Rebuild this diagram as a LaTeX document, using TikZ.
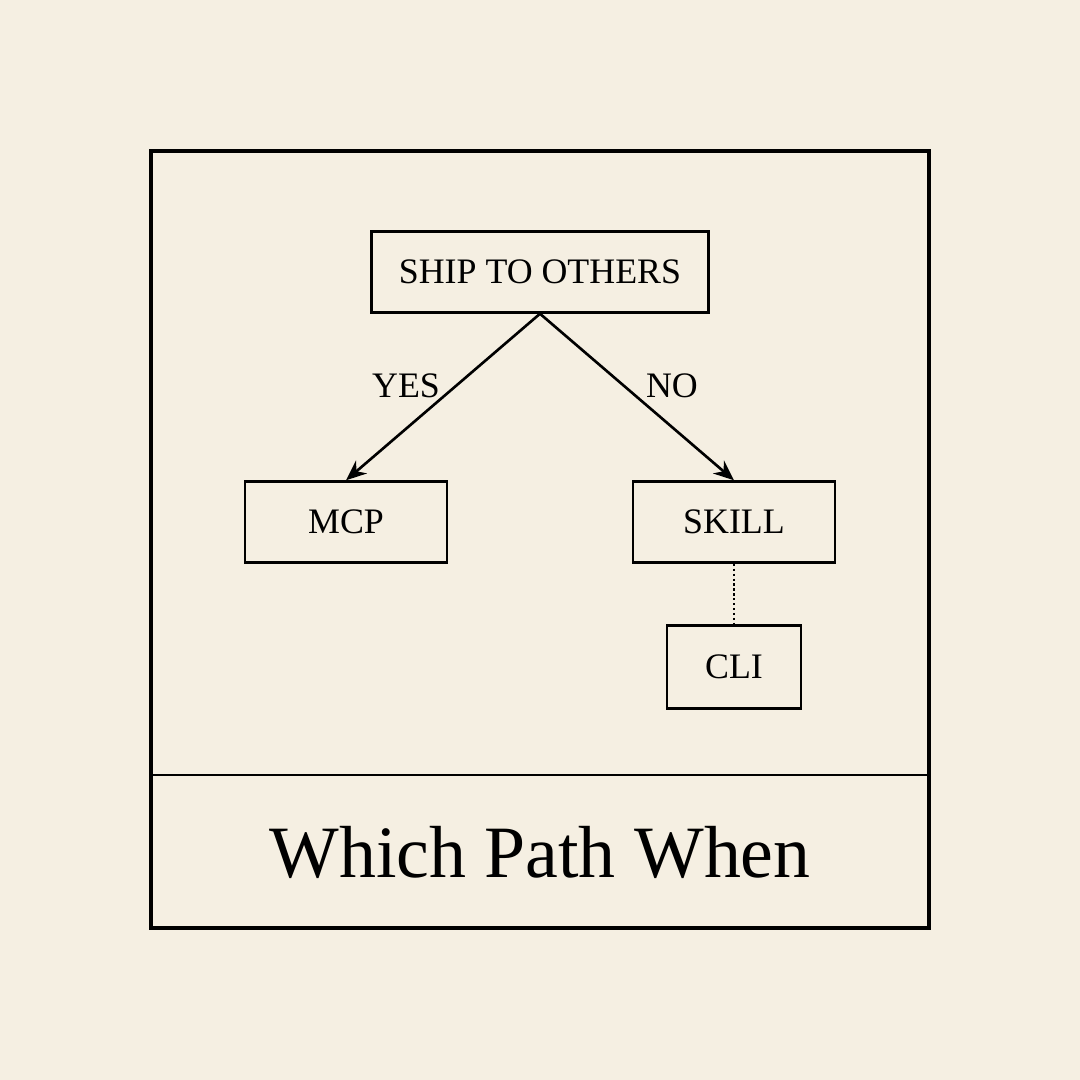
\documentclass[tikz,border=0pt]{standalone}
\usepackage{xcolor}
\usepackage{fontspec}
\setmainfont{Liberation Serif}
\usepackage{tikz}
\usetikzlibrary{arrows.meta}
\definecolor{paper}{HTML}{F5EFE2}
\tikzset{>={Stealth[length=5.8pt,width=4.8pt]}}

\begin{document}
\begin{tikzpicture}[x=0.1mm,y=-0.1mm,
    box/.style={draw,line width=0.7pt,minimum height=8.1mm,inner sep=0pt,
      font=\fontsize{10.2}{12}\selectfont},
    lbl/.style={font=\fontsize{10.2}{12}\selectfont,inner sep=0.5pt,yshift=-0.4mm}]
    \fill[paper] (0,0) rectangle (1080,1080);
    \useasboundingbox (0,0) rectangle (1080,1080);
    \draw[line width=1.35pt] (151,151) rectangle (929,928);
    \draw[line width=0.75pt] (151,775) -- (929,775);
    \node[box,minimum width=33.7mm] (ship) at (540,272) {SHIP TO OTHERS};
    \node[box,minimum width=20.2mm] (mcp) at (346,522) {MCP};
    \node[box,minimum width=20.2mm] (skill) at (734,522) {SKILL};
    \node[box,minimum width=13.4mm,minimum height=8.3mm] (cli) at (734,667) {CLI};
    \draw[->,line width=0.75pt] (ship.south) -- (mcp.north) node[lbl,midway,above left] {YES};
    \draw[->,line width=0.75pt] (ship.south) -- (skill.north) node[lbl,midway,above right,xshift=0.6mm] {NO};
    \draw[line width=0.85pt,dash pattern=on 0.65pt off 0.75pt] (skill) -- (cli);
    \node[font=\fontsize{21}{26}\selectfont] (title) at (540,852) {Which Path When};
\end{tikzpicture}
\end{document}
